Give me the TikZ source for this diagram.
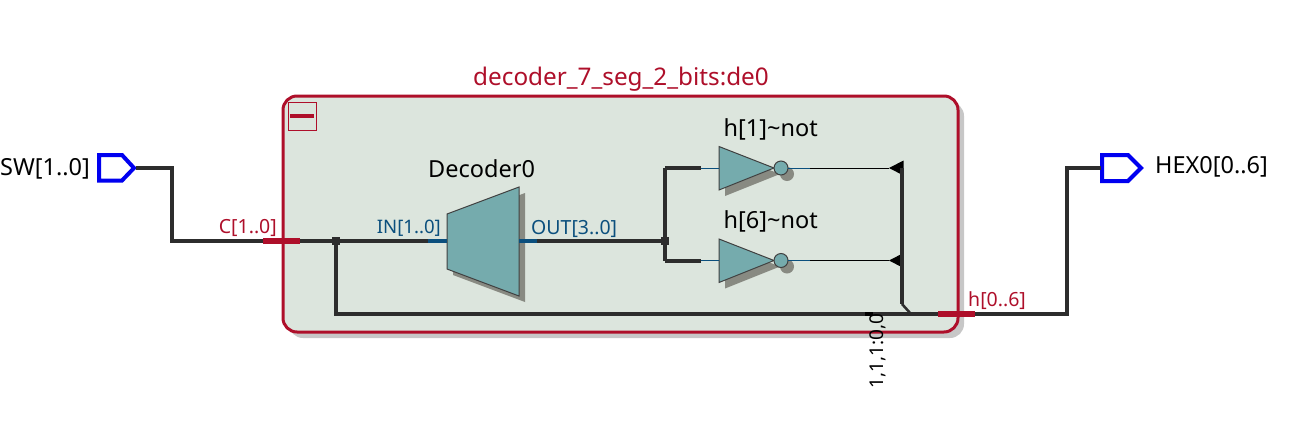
\documentclass[tikz,border=0pt]{standalone}
\usepackage{fontspec}
\setmainfont{Noto Sans}
\usetikzlibrary{positioning}
\definecolor{blockred}{HTML}{AE0F2A}
\definecolor{blockfill}{HTML}{DCE5DD}
\definecolor{primfill}{HTML}{75ABAD}
\definecolor{primshadow}{HTML}{888A82}
\definecolor{portblue}{HTML}{0B4F7D}
\definecolor{wiregray}{HTML}{2D2D2D}
\definecolor{pinblue}{HTML}{0000F0}
\tikzset{
  bigtxt/.style={inner sep=0pt, font=\fontsize{23.5}{26}\selectfont},
  redtxt/.style={inner sep=0pt, text=blockred, font=\fontsize{19.5}{22}\selectfont},
  bluetxt/.style={inner sep=0pt, text=portblue, font=\fontsize{19.5}{22}\selectfont},
  busw/.style={draw=wiregray, line width=4pt},
  thinw/.style={draw=black, line width=1pt},
  pinbox/.style={draw=pinblue, line width=4pt, miter limit=10},
  portbar/.style={draw=blockred, line width=6pt},
  stub/.style={draw=portblue, line width=4pt},
  prim/.style={draw=black!75, fill=primfill, line width=1pt},
  shade/.style={fill=primshadow}
}
\begin{document}
\begin{tikzpicture}[x=1pt,y=-1pt]
  \path[use as bounding box] (0,0) rectangle (1307,429);
  % block
  \fill[black!22, rounded corners=14pt] (289,102) rectangle (964,338);
  \filldraw[draw=blockred, fill=blockfill, line width=3pt, rounded corners=14pt] (283,96) rectangle (958,332);
  \draw[blockred, line width=1pt] (288,102) rectangle (316,130);
  \draw[blockred, line width=4pt] (290,116) -- (314,116);
  \node[redtxt, anchor=base, font=\fontsize{24.3}{26}\selectfont] (title) at (621,85) {decoder\_7\_seg\_2\_bits:de0};
  % pins
  \coordinate (swtip) at (136,168);
  \coordinate (hexin) at (1101,168);
  \draw[pinbox] (99,155) -- (122,155) -- (134,168) -- (122,180.5) -- (99,180.5) -- cycle;
  \draw[pinbox] (1102,155) -- (1128,155) -- (1141,168) -- (1128,181) -- (1102,181) -- cycle;
  \node[bigtxt, anchor=base east] (swlabel) at (90,175) {SW[1..0]};
  \node[bigtxt, anchor=base west] (hexlabel) at (1155,173) {HEX0[0..6]};
  % decoder
  \fill[shade] (453,220) -- (525,193) -- (525,302) -- (453,275) -- cycle;
  \draw[prim] (447,214) -- (519,187) -- (519,296) -- (447,269) -- cycle;
  \node[bigtxt, anchor=base west] (declabel) at (428,177) {Decoder0};
  \coordinate (decin) at (447,241);
  \coordinate (decout) at (519,241);
  \coordinate (instub) at (428,241);
  \coordinate (outstub) at (537,241);
  \node[bluetxt, anchor=base east, font=\fontsize{18.6}{22}\selectfont] (inlabel) at (441,233) {IN[1..0]};
  \node[bluetxt, anchor=base west] (outlabel) at (531,234) {OUT[3..0]};
  % inverters
  \foreach \nm/\yy/\tt in {one/168/{h[1]~not}, six/260.5/{h[6]~not}} {
    \fill[shade] (725,\yy-15) -- (780,\yy+6) -- (725,\yy+28) -- cycle;
    \fill[shade] (787,\yy+6) circle[radius=7];
    \draw[prim] (719,\yy-21.5) -- (774,\yy) -- (719,\yy+22) -- cycle;
    \draw[prim] (781,\yy) circle[radius=7];
    \coordinate (\nm in) at (719,\yy);
    \coordinate (\nm stub) at (701,\yy);
    \coordinate (\nm out) at (788,\yy);
    \coordinate (\nm mid) at (810,\yy);
    \coordinate (\nm tip) at (889,\yy);
    \coordinate (\nm bus) at (902,\yy);
    \coordinate (\nm fork) at (665,\yy);
    \node[bigtxt, anchor=base west] (\nm label) at (723.5,\yy-32) {\detokenize\expandafter{\tt}};
    \draw[draw=portblue, line width=1pt] (\nm stub) -- (\nm in);
    \draw[draw=portblue, line width=1pt] (\nm out) -- (\nm mid);
    \draw[thinw] (\nm mid) -- (\nm tip);
    \fill[black] (\nm tip) -- (903.5,\yy-7.5) -- (903.5,\yy+7.5) -- cycle;
    \draw[busw] (\nm fork) -- (\nm stub);
  }
  % wires
  \coordinate (cport) at (263,241);
  \coordinate (cportend) at (300,241);
  \coordinate (injoin) at (336,241);
  \coordinate (outjoin) at (665,241);
  \coordinate (corner) at (336,314);
  \coordinate (hport) at (938,314);
  \coordinate (hportend) at (975,314);
  \coordinate (hturn) at (1067,314);
  \coordinate (busbend) at (902,304);
  \coordinate (busend) at (911,314);
  \draw[busw, line join=miter] (swtip) -- (172,168) -- (172,241) -- (cport);
  \draw[busw] (cportend) -- (instub);
  \draw[stub] (instub) -- (decin);
  \draw[stub] (decout) -- (outstub);
  \draw[busw] (outstub) -- (outjoin);
  \draw[busw] (onefork) -- (sixfork);
  \draw[busw] (injoin) -- (corner) -- (hport);
  \draw[busw] (hportend) -- (hturn) -- (1067,168) -- (hexin);
  \draw[draw=wiregray, line width=3.5pt] (onebus) -- (busbend);
  \draw[draw=wiregray, line width=2.5pt] (busbend) -- (busend);
  \draw[portbar] (cport) -- (cportend);
  \draw[portbar] (hport) -- (hportend);
  \fill[wiregray] (332,237) rectangle (340,245);
  \fill[wiregray] (661,237) rectangle (669,245);
  \fill[black] (865,311.5) rectangle (873,316);
  \node[redtxt, anchor=base east] (clabel) at (277,233) {C[1..0]};
  \node[redtxt, anchor=base west] (hlabel) at (968,306) {h[0..6]};
  \node[inner sep=0pt, anchor=base west, rotate=90, font=\fontsize{19}{22}\selectfont] (constlabel) at (883,388.5) {1,1,1:0,0};
\end{tikzpicture}
\end{document}
